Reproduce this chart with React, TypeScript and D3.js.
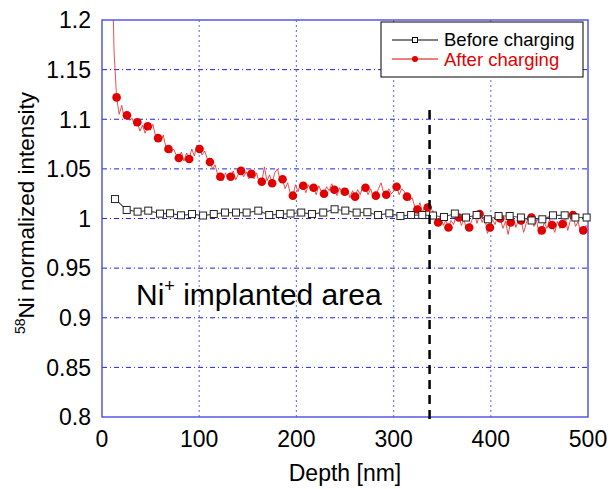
import React from "react";
import * as d3 from "d3";

const xTicks = [0, 100, 200, 300, 400, 500];
const yTicks = [0.8, 0.85, 0.9, 0.95, 1, 1.05, 1.1, 1.15, 1.2];
const yTickLabels = ["0.8", "0.85", "0.9", "0.95", "1", "1.05", "1.1", "1.15", "1.2"];

const beforeDepth = [13.4, 25.4, 36.6, 47.6, 59.7, 70, 81.3, 92.6, 104, 115, 126.5, 137.9, 148.8, 160.8, 172, 183, 194, 205, 216, 227.6, 239.3, 250.3, 262, 273, 284, 295.6, 307, 318, 329.5, 340.5, 351.8, 363, 374.5, 385.4, 397, 408, 419.4, 431, 442, 453, 464, 476, 487, 498.6];
const beforeValue = [1.0196, 1.0086, 1.0069, 1.0079, 1.0049, 1.0052, 1.0032, 1.0045, 1.003, 1.0045, 1.006, 1.006, 1.006, 1.0079, 1.0035, 1.0045, 1.005, 1.006, 1.0045, 1.006, 1.0093, 1.008, 1.006, 1.0063, 1.0035, 1.0052, 1.0025, 1.0035, 1.0035, 1.003, 1.0015, 1.005, 1.001, 1.0035, 0.9992, 1.0025, 1.0025, 1.001, 0.998, 0.9992, 1.0032, 1.0032, 1.001, 1.001];

// After charging: sampled every afterStep nm starting at afterStart; markers on every 4th sample
const afterStart = 9.67;
const afterStep = 2.6675;
const afterMarkerEvery = 4;
const afterMarkerOffset = 2;
const afterValue = [
  1.30, 1.17,
  1.122, 1.105, 1.114, 1.100,
  1.104, 1.099, 1.101, 1.093,
  1.097, 1.088, 1.094, 1.086,
  1.093, 1.089, 1.095, 1.083,
  1.081, 1.077, 1.084, 1.072,
  1.070, 1.066, 1.070, 1.064,
  1.061, 1.067, 1.058, 1.066,
  1.060, 1.070, 1.063, 1.074,
  1.070, 1.064, 1.068, 1.060,
  1.057, 1.050, 1.054, 1.044,
  1.042, 1.038, 1.046, 1.040,
  1.042, 1.048, 1.039, 1.045,
  1.048, 1.042, 1.047, 1.040,
  1.045, 1.040, 1.046, 1.036,
  1.037, 1.052, 1.038, 1.044,
  1.0355, 1.046, 1.050, 1.040,
  1.0395, 1.030, 1.036, 1.025,
  1.023, 1.034, 1.027, 1.036,
  1.033, 1.026, 1.034, 1.028,
  1.031, 1.024, 1.033, 1.027,
  1.025, 1.032, 1.028, 1.035,
  1.029, 1.023, 1.031, 1.026,
  1.027, 1.030, 1.021, 1.028,
  1.022, 1.029, 1.024, 1.033,
  1.031, 1.024, 1.030, 1.021,
  1.023, 1.030, 1.036, 1.026,
  1.024, 1.030, 1.025, 1.028,
  1.032, 1.024, 1.030, 1.027,
  1.022, 1.018, 1.021, 1.012,
  1.009, 1.016, 1.006, 1.014,
  1.011, 1.004, 1.008, 0.999,
  0.996, 1.003, 0.993, 0.998,
  0.991, 0.998, 0.994, 1.004,
  1.001, 0.993, 0.999, 0.988,
  0.991, 0.998, 1.006, 0.995,
  1.0045, 0.996, 1.002, 0.985,
  0.991, 0.999, 0.994, 1.003,
  1.000, 0.990, 0.997, 0.984,
  0.996, 1.002, 0.991, 0.999,
  0.998, 0.986, 0.995, 1.003,
  1.001, 0.992, 0.998, 0.984,
  0.988, 0.996, 0.990, 0.999,
  0.9935, 0.986, 0.997, 0.990,
  0.9945, 1.002, 0.988, 0.998,
  1.0035, 0.992, 0.997, 0.985,
  0.988, 0.993, 0.990,
];

const boundaryDepth = 337;
const legendLabels = ["Before charging", "After charging"];
const xLabel = "Depth [nm]";
const yLabelSup = "58";
const yLabelMain = "Ni normalized intensity";

const W = 611;
const H = 489;
const FONT = "'Liberation Sans', Arial, sans-serif";

export default function App() {
  const x = d3.scaleLinear().domain([0, 500]).range([102, 588]);
  const y = d3.scaleLinear().domain([0.8, 1.2]).range([417, 20]);

  const before = beforeDepth.map((d, i) => ({ d, v: beforeValue[i] }));
  const after = afterValue.map((v, i) => ({ d: afterStart + i * afterStep, v }));
  const afterMarkers = after.filter((_, i) => i >= afterMarkerOffset && (i - afterMarkerOffset) % afterMarkerEvery === 0);

  const line = d3
    .line<{ d: number; v: number }>()
    .x((p) => x(p.d))
    .y((p) => y(p.v));

  const [x0, x1] = x.range();
  const [y0, y1] = y.range();

  return (
    <svg width={W} height={H} style={{ position: "absolute", left: 0, top: 0, background: "#fff" }} fontFamily={FONT}>
      <defs>
        <clipPath id="plotClip">
          <rect x={x0} y={y1} width={x1 - x0} height={y0 - y1} />
        </clipPath>
      </defs>
      {/* grid */}
      {yTicks.slice(1, -1).map((t) => (
        <line key={"hy" + t} x1={x0} x2={x1} y1={y(t)} y2={y(t)} stroke="#1f1fe0" strokeWidth={1} strokeDasharray="5,3,1,3" />
      ))}
      {xTicks.slice(1, -1).map((t) => (
        <line key={"vx" + t} x1={x(t)} x2={x(t)} y1={y1} y2={y0} stroke="#7a7af0" strokeWidth={1.2} strokeDasharray="2,3" />
      ))}

      {/* plot border */}
      <rect x={x0} y={y1} width={x1 - x0} height={y0 - y1} fill="none" stroke="#4a4ae6" strokeWidth={1.4} />

      {/* after charging line */}
      <g clipPath="url(#plotClip)">
        <path d={line(after) || ""} fill="none" stroke="#e83030" strokeWidth={1} strokeOpacity={0.85} />
      </g>
      {afterMarkers.map((p, i) => (
        <circle key={"am" + i} cx={x(p.d)} cy={y(p.v)} r={4.3} fill="#e00000" />
      ))}

      {/* before charging */}
      <path d={line(before) || ""} fill="none" stroke="#555" strokeWidth={1.2} />
      {before.map((p, i) => (
        <rect key={"bm" + i} x={x(p.d) - 3.5} y={y(p.v) - 3.5} width={7} height={7} fill="#fff" stroke="#222" strokeWidth={1} />
      ))}

      {/* boundary */}
      <line x1={x(boundaryDepth)} x2={x(boundaryDepth)} y1={110} y2={425} stroke="#000" strokeWidth={2.5} strokeDasharray="9,6" />

      {/* annotation */}
      <text x={136} y={305} fontSize={30} fill="#000">
        Ni<tspan fontSize={18} dy={-13}>+</tspan>
        <tspan dy={13}> implanted area</tspan>
      </text>

      {/* y ticks */}
      {yTicks.map((t, i) => (
        <text key={"yt" + t} x={91} y={y(t)} dy="0.36em" textAnchor="end" fontSize={23} fill="#000">
          {yTickLabels[i]}
        </text>
      ))}
      {/* x ticks */}
      {xTicks.map((t) => (
        <text key={"xt" + t} x={x(t)} y={447} textAnchor="middle" fontSize={23} fill="#000">
          {t}
        </text>
      ))}

      <text x={345} y={481} textAnchor="middle" fontSize={23} fill="#000">
        {xLabel}
      </text>
      <text transform="translate(34,213) rotate(-90)" textAnchor="middle" fontSize={22.5} fill="#000">
        <tspan fontSize={14} dy={-9}>{yLabelSup}</tspan>
        <tspan dy={9}>{yLabelMain}</tspan>
      </text>

      {/* legend */}
      <rect x={381} y={22} width={202} height={55} fill="#fff" stroke="#000" strokeWidth={1} />
      <line x1={392} x2={438} y1={40} y2={40} stroke="#000" strokeWidth={1} />
      <rect x={412.5} y={37.5} width={5} height={5} fill="#fff" stroke="#000" strokeWidth={1} />
      <text x={444} y={46} fontSize={18.5} fill="#000">{legendLabels[0]}</text>
      <line x1={392} x2={438} y1={59} y2={59} stroke="#e00000" strokeWidth={1} />
      <circle cx={415} cy={59} r={3} fill="#e00000" />
      <text x={444} y={66} fontSize={18.5} fill="#e00000">{legendLabels[1]}</text>
    </svg>
  );
}
